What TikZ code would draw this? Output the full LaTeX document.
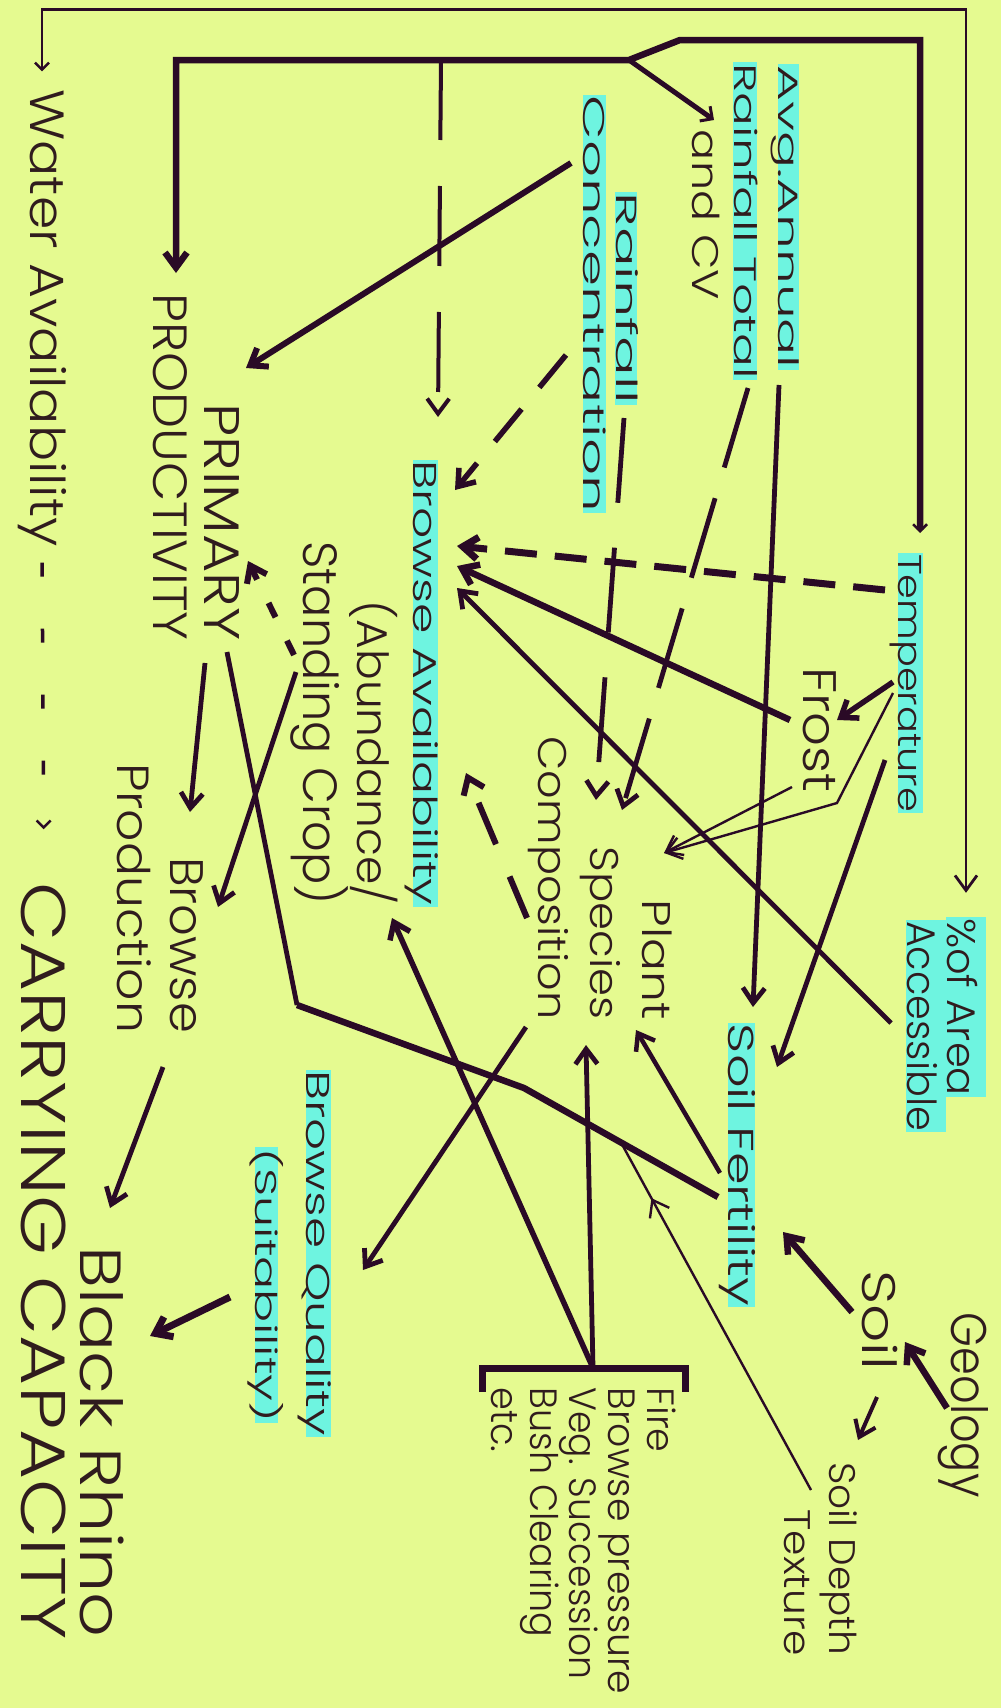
\documentclass[tikz,border=0pt]{standalone}
\usepackage{fontspec}
\usepackage{graphicx}
\IfFontExistsTF{Poppins Light}{\setmainfont{Poppins Light}}{\setmainfont{Poppins}}
\usetikzlibrary{arrows.meta,decorations.markings}

\definecolor{bgc}{RGB}{229,250,144}
\definecolor{hlc}{RGB}{110,244,224}
\definecolor{ink}{RGB}{42,10,38}
\definecolor{txtc}{RGB}{48,28,30}

% text stretched to a given length, size kept for its height
\newcommand{\vtext}[3]{\resizebox{#2pt}{\height}{\fontsize{#1}{#1}\selectfont #3}}

\tikzset{
  lbl/.style={rotate=-90, inner sep=0pt, text=txtc},
  hilite/.style={lbl, fill=hlc, inner xsep=1pt, inner ysep=1pt, text depth=0pt, text height=#1},
  ln/.style={draw=ink, line width=4.8pt},
  fatln/.style={draw=ink, line width=6.5pt},
  thinln/.style={draw=ink, line width=2.4pt},
  sbarb/.tip={Straight Barb[length=7pt,width=14pt,line width=2.5pt]},
  mbarb/.tip={Straight Barb[length=9pt,width=18pt,line width=3pt]},
}

\begin{document}
\begin{tikzpicture}[x=1pt, y=-1pt, >={Straight Barb[length=15pt,width=22pt]}]
\useasboundingbox (0,0) rectangle (1001,1708);
\fill[bgc] (0,0) rectangle (1001,1708);

% climate
\node[hilite=19pt] (avg) at (788,217) {\vtext{28}{303}{Avg.Annual}};
\node[hilite=22pt] (rtot) at (745,221) {\vtext{31}{315}{Rainfall Total}};
\node[lbl] (cv) at (706,215) {\vtext{37}{170}{and CV}};
\node[hilite=20pt] (rain) at (626,298) {\vtext{29}{211}{Rainfall}};
\node[hilite=21pt] (conc) at (594,304) {\vtext{30}{416}{Concentration}};
\node[hilite=23pt] (temp) at (910,683) {\vtext{33}{258}{Temperature}};
\node[lbl] (frost) at (820,730) {\vtext{47}{125}{Frost}};
\node[hilite=38pt] (area1) at (966,1007) {\vtext{40}{178}{\%of Area}};
\node[hilite=38pt] (area2) at (926,1026) {\vtext{40}{210}{Accessible}};

% soil and vegetation
\node[hilite=25pt] (soilf) at (741,1165) {\vtext{36}{282}{Soil Fertility}};
\node[lbl, align=right, font=\fontsize{40}{52}\selectfont] (plant) at (600,878)
  {\vtext{40}{120}{Plant}\\\vtext{40}{173}{Species}\\\vtext{40}{283}{Composition}};
\node[hilite=23pt] (ba) at (425,683) {\vtext{33}{445}{Browse Availability}};
\node[lbl, align=right, font=\fontsize{45}{50}\selectfont] (abund) at (344,723)
  {\vtext{43}{304}{(Abundance/}\\\vtext{48}{363}{Standing Crop)}};
\node[lbl, align=right, font=\fontsize{50}{51}\selectfont] (prim) at (196,467)
  {\vtext{50}{237}{PRIMARY}\\\vtext{48}{347}{PRODUCTIVITY}};
\node[lbl, align=right, font=\fontsize{47}{53}\selectfont] (bprod) at (160,898)
  {\vtext{47}{176}{Browse}\\\vtext{45}{270}{Production}};
\node[hilite=23pt] (bq1) at (318,1253) {\vtext{33}{365}{Browse Quality}};
\node[hilite=21pt] (bq2) at (266,1285) {\vtext{30}{274}{(Suitability)}};
\node[lbl] (soil) at (880,1320) {\vtext{47}{100}{Soil}};
\node[lbl] (geo) at (963,1405) {\vtext{50}{185}{Geology}};
\node[lbl, align=right, font=\fontsize{37}{45}\selectfont] (sdep) at (821,1559)
  {\vtext{37}{193}{Soil Depth}\\\vtext{37}{146}{Texture}};
\node[lbl, align=left, font=\fontsize{38}{39}\selectfont] (fire) at (584,1541)
  {\vtext{38}{65}{Fire}\\\vtext{38}{307}{Browse pressure}\\\vtext{38}{292}{Veg. Succession}\\\vtext{38}{250}{Bush Clearing}\\\vtext{38}{65}{etc.}};

% outcome
\node[lbl] (water) at (42,318) {\vtext{48}{457}{Water Availability}};
\node[lbl] (cc) at (44,1261) {\vtext{63}{757}{CARRYING CAPACITY}};
\node[lbl] (rhino) at (102,1442) {\vtext{58}{391}{Black Rhino}};

% rails along the top
\draw[thinln, line width=2.8pt, sbarb->, shorten <=18pt, shorten >=24pt] (water.west) -- ++(0,-80) -| (area1.west);
\draw[fatln, sbarb->] ([shift={(10,-150)}]temp.center) |- (680,40) -- (629,60) coordinate (fork)
  -- (441,60) coordinate (drop) -- (176,60) -- ([shift={(-20,-194)}]prim.center);
\draw[fatln, line width=5pt, -mbarb] (fork) -- ([shift={(8,-95)}]cv.center);
\draw[ln, line width=4pt, dash pattern=on 80pt off 46pt, ->] (drop) -- ([shift={(13,-266)}]ba.center);

% rainfall
\draw[ln, line width=6pt, ->] ([shift={(-23,-141)}]conc.center) -- ([shift={(50,-99)}]prim.center);
\draw[ln, line width=5.5pt, dash pattern=on 42pt off 28pt, ->] ([shift={(-28,51)}]conc.center) -- ([shift={(30,-193)}]ba.center);
\draw[ln, dash pattern=on 85pt off 45pt, ->] ([shift={(-2,120)}]rain.center) -- ([shift={(-4,-78)}]plant.center);
\draw[ln, dash pattern=on 83pt off 32pt, ->] ([shift={(3,167)}]rtot.center) -- ([shift={(22,-68)}]plant.center);
\draw[ln, ->] ([shift={(-9,168)}]avg.center) -- ([shift={(12,-158)}]soilf.center);

% temperature
\draw[ln, line width=7pt, dash pattern=on 32pt off 18pt, ->] ([shift={(-25,-93)}]temp.center) -- ([shift={(32,-137)}]ba.center);
\draw[fatln, ->] ([shift={(-30,-10)}]frost.center) -- ([shift={(32,-117)}]ba.center);
\draw[ln, ->] ([shift={(-35,-3)}]area2.center) -- ([shift={(32,-95)}]ba.center);
\draw[ln, line width=5.5pt, ->] ([shift={(-17,-1)}]temp.center) -- ([shift={(17,-10)}]frost.center);
\draw[thinln, ->] ([shift={(-17,10)}]temp.center) -- ++(-56,110) -- ([shift={(64,-25)}]plant.center);
\draw[thinln, ->] ([shift={(-28,57)}]frost.center) -- ([shift={(64,-25)}]plant.center);
\draw[ln, ->] ([shift={(-25,77)}]temp.center) -- ([shift={(36,-98)}]soilf.center);

% vegetation
\draw[ln, line width=6pt, dash pattern=on 45pt off 35pt, ->] ([shift={(-73,40)}]plant.center) -- ([shift={(41,90)}]ba.center);
\draw[ln, line width=6pt, dash pattern=on 16pt off 26pt, ->] ([shift={(-50,-68)}]abund.center) -- ([shift={(52,94)}]prim.center);
\draw[ln, ->] ([shift={(9,196)}]prim.center) -- ([shift={(30,-86)}]bprod.center);
\draw[ln, ->] ([shift={(-48,-51)}]abund.center) -- ([shift={(58,9)}]bprod.center);
\draw[fatln] ([shift={(-23,32)}]soilf.center) -- coordinate[pos=.5] (sfhit) ++(-194,-109) -- ++(-227,-83) coordinate (sfbend);
\draw[ln] (sfbend) -- ([shift={(31,185)}]prim.center);
\draw[ln, ->] ([shift={(-74,149)}]plant.center) -- ([shift={(45,17)}]bq1.center);
\draw[ln, line width=4.5pt, ->] ([shift={(-21,8)}]soilf.center) -- ([shift={(36,152)}]plant.center);

% management bracket
\draw[ink, line width=7pt] ([shift={(-102,-149)}]fire.center) -- ++(0,-24) -- ++(203,0) -- ++(0,24);
\coordinate (firejoin) at ([shift={(9,-173)}]fire.center);
\draw[ln, ->] (firejoin) -- ([shift={(-14,167)}]plant.center);
\draw[ln, line width=5.5pt, ->] (firejoin) -- ([shift={(48,195)}]abund.center);

% soil
\draw[thinln, postaction={decorate}, decoration={markings, mark=at position .84 with {\arrow{>}}}]
  ([shift={(-10,-69)}]sdep.center) -- (sfhit);
\draw[fatln, ->] ([shift={(-28,-8)}]soil.center) -- ([shift={(42,67)}]soilf.center);
\draw[fatln, ->] ([shift={(-16,3)}]geo.center) -- ([shift={(25,22)}]soil.center);
\draw[ln, line width=4pt, ->] ([shift={(-3,77)}]soil.center) -- ([shift={(37,-119)}]sdep.center);

% to the rhino
\draw[ln, ->] ([shift={(3,169)}]bprod.center) -- ([shift={(8,-234)}]rhino.center);
\draw[fatln, line width=7pt, ->] ([shift={(-36,12)}]bq2.center) -- ([shift={(48,-106)}]rhino.center);
\draw[ink, line width=3.5pt, dash pattern=on 14pt off 52pt, -sbarb, shorten <=16pt, shorten >=53pt] (water.east) -- (cc.west);

\end{tikzpicture}
\end{document}
